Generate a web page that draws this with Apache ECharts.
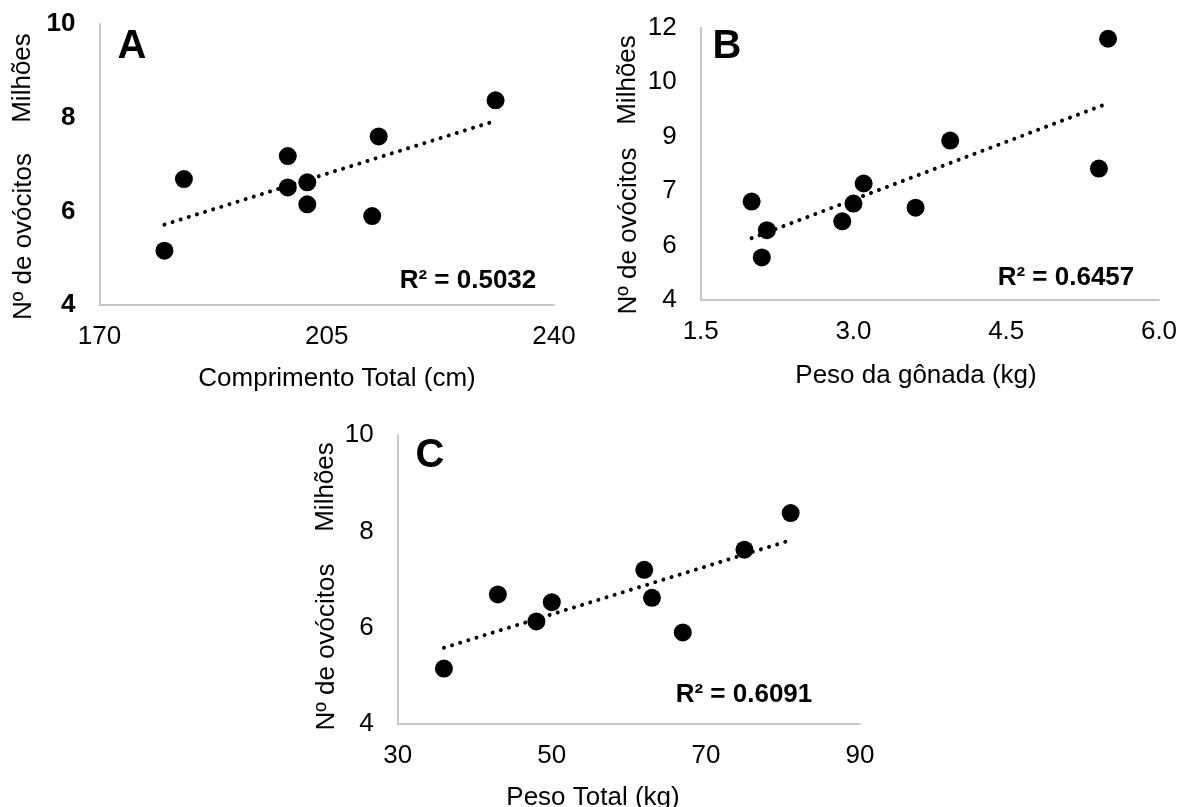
<!DOCTYPE html>
<html>
<head>
<meta charset="utf-8">
<script src="https://cdn.jsdelivr.net/npm/echarts@6/dist/echarts.min.js"></script>
<style>
html,body{margin:0;padding:0;background:#fff;}
#chart{width:1181px;height:807px;}
</style>
</head>
<body>
<div id="chart"></div>
<script>
// ---- Data ----
const lengthA  = [180, 183, 199, 199, 202, 202, 212, 213, 231];
const oocytesA = [5.16, 6.69, 7.18, 6.51, 6.62, 6.15, 5.90, 7.60, 8.37];

const gonadB   = [2.00, 2.10, 2.15, 2.89, 3.00, 3.10, 3.61, 3.95, 5.41, 5.50];
const oocytesB = [6.89, 5.25, 6.05, 6.31, 6.83, 7.42, 6.71, 8.68, 7.86, 11.67];

const weightC  = [36, 43, 48, 50, 62, 63, 67, 75, 81];
const oocytesC = [5.15, 6.69, 6.13, 6.53, 7.20, 6.62, 5.90, 7.62, 8.38];

const xTicksA = [170, 205, 240];
const yTicksA = [4, 6, 8, 10];
const xTicksB = [1.5, 3.0, 4.5, 6.0];
const yTicksB = [4, 5.6, 7.2, 8.8, 10.4, 12];
const xTicksC = [30, 50, 70, 90];
const yTicksC = [4, 6, 8, 10];

const panelLetters = ['A', 'B', 'C'];
const r2Labels = ['R² = 0.5032', 'R² = 0.6457', 'R² = 0.6091'];
const xTitles = ['Comprimento Total (cm)', 'Peso da gônada (kg)', 'Peso Total (kg)'];
const yTitle = 'Nº de ovócitos';
const unitTitle = 'Milhões';

// ---- helpers ----
function pairs(xs, ys){ return xs.map((x,i)=>[x, ys[i]]); }
function trend(xs, ys){
  const n = xs.length;
  const mx = xs.reduce((a,b)=>a+b,0)/n, my = ys.reduce((a,b)=>a+b,0)/n;
  let sxy=0, sxx=0;
  for(let i=0;i<n;i++){ sxy += (xs[i]-mx)*(ys[i]-my); sxx += (xs[i]-mx)**2; }
  const b = sxy/sxx, a = my - b*mx;
  const x0 = Math.min(...xs), x1 = Math.max(...xs);
  return [[x0, a+b*x0],[x1, a+b*x1]];
}

const FONT = 'Liberation Sans, Arial, sans-serif';
const AXIS_COLOR = '#c8c8c8';

const grids = [
  {left: 99.5, top: 24, width: 454.5, height: 281},
  {left: 700.7, top: 27.5, width: 458.3, height: 272.5},
  {left: 397.7, top: 435, width: 462.3, height: 289}
];

function xAxis(idx, ticks, fmt){
  return {
    type:'value', gridIndex: idx, min: ticks[0], max: ticks[ticks.length-1],
    axisLine:{show:true, onZero:false, lineStyle:{color:AXIS_COLOR, width:2}},
    axisTick:{show:false}, splitLine:{show:false},
    axisLabel:{customValues: ticks, formatter: fmt, color:'#000', fontSize:26, fontFamily:FONT, margin:19}
  };
}
function yAxis(idx, ticks, fmt, bold){
  return {
    type:'value', gridIndex: idx, min: ticks[0], max: ticks[ticks.length-1],
    axisLine:{show:true, onZero:false, lineStyle:{color:AXIS_COLOR, width:2}},
    axisTick:{show:false}, splitLine:{show:false},
    axisLabel:{customValues: ticks, formatter: fmt, color:'#000', fontSize:26, fontFamily:FONT,
               fontWeight: bold ? 'bold' : 'normal', margin:24}
  };
}

const xsList = [lengthA, gonadB, weightC];
const ysList = [oocytesA, oocytesB, oocytesC];

const series = [];
for(let i=0;i<3;i++){
  series.push({
    type:'line', xAxisIndex:i, yAxisIndex:i, data: trend(xsList[i], ysList[i]),
    symbol:'none', silent:true, z:2,
    lineStyle:{color:'#000', width:4, type:[0.01, 8.5], cap:'round', opacity:1}
  });
  series.push({
    type:'scatter', xAxisIndex:i, yAxisIndex:i, data: pairs(xsList[i], ysList[i]),
    symbol:'circle', symbolSize:18, itemStyle:{color:'#000', opacity:1}, z:3,
    emphasis:{disabled:true}
  });
}

function txt(x, y, text, size, weight, rot){
  return {type:'text', x:x, y:y, rotation: rot||0, z:10,
    style:{text:text, font: (weight||'normal')+' '+size+'px '+FONT, fill:'#000', align:'center', verticalAlign:'middle'}};
}

const graphic = [
  txt(132, 47, panelLetters[0], 40, 'bold'),
  txt(727, 47, panelLetters[1], 40, 'bold'),
  txt(430, 456, panelLetters[2], 40, 'bold'),
  txt(468, 281, r2Labels[0], 26, 'bold'),
  txt(1066, 278, r2Labels[1], 26, 'bold'),
  txt(744, 695, r2Labels[2], 26, 'bold'),
  txt(337, 379, xTitles[0], 26),
  txt(916, 376, xTitles[1], 26),
  txt(593, 798, xTitles[2], 26),
  txt(24, 236.5, yTitle, 26, 'normal', Math.PI/2),
  txt(23, 78, unitTitle, 26, 'normal', Math.PI/2),
  txt(628.5, 231, yTitle, 26, 'normal', Math.PI/2),
  txt(628, 80, unitTitle, 26, 'normal', Math.PI/2),
  txt(326.5, 647, yTitle, 26, 'normal', Math.PI/2),
  txt(326, 487, unitTitle, 26, 'normal', Math.PI/2)
];

const chart = echarts.init(document.getElementById('chart'), null, {renderer:'canvas'});
chart.setOption({
  backgroundColor:'#fff',
  animation:false,
  grid: grids,
  xAxis: [
    xAxis(0, xTicksA, v=>String(v)),
    xAxis(1, xTicksB, v=>v.toFixed(1)),
    xAxis(2, xTicksC, v=>String(v))
  ],
  yAxis: [
    yAxis(0, yTicksA, v=>String(v), true),
    yAxis(1, yTicksB, v=>String(Math.round(v)), false),
    yAxis(2, yTicksC, v=>String(v), false)
  ],
  series: series,
  graphic: graphic
});
</script>
</body>
</html>
